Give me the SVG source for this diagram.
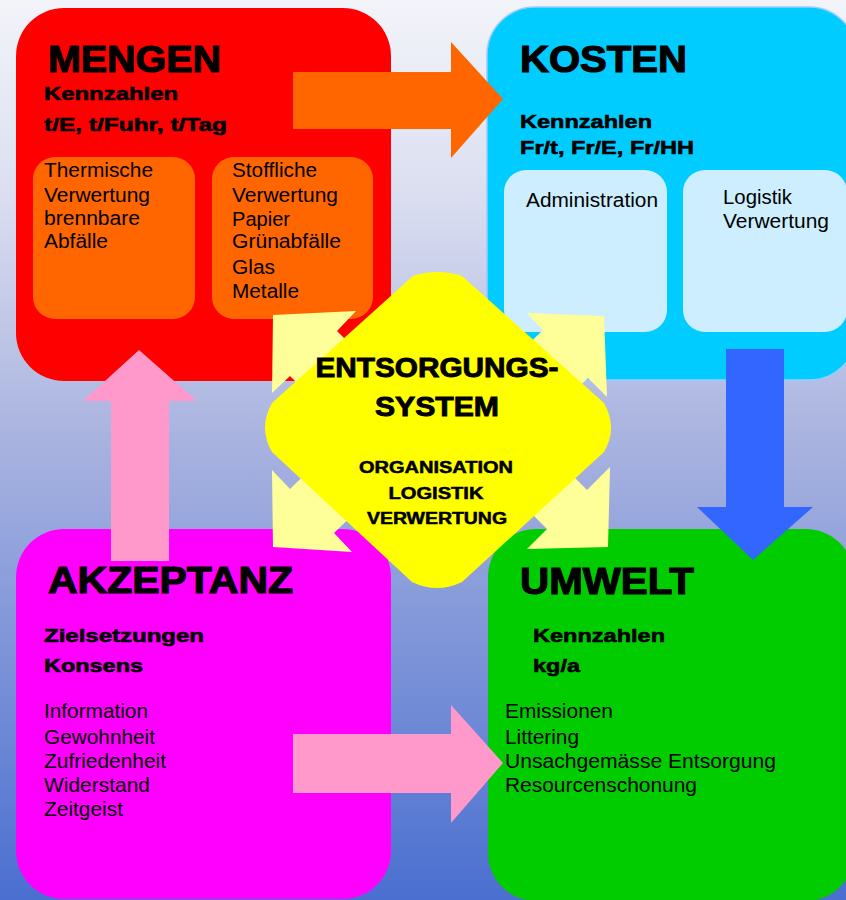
<svg xmlns="http://www.w3.org/2000/svg" width="846" height="900" viewBox="0 0 846 900">
<defs>
<linearGradient id="bg" x1="0" y1="0" x2="0" y2="1">
<stop offset="0" stop-color="#f3f4fa"/>
<stop offset="0.22" stop-color="#dadef0"/>
<stop offset="0.48" stop-color="#aab4e0"/>
<stop offset="1" stop-color="#4a6fd0"/>
</linearGradient>
<style>
.h{font-family:"Liberation Sans",Arial,sans-serif;font-weight:bold;font-size:37px;fill:#000;stroke:#000;stroke-width:1.2px}
.s{font-family:"Liberation Sans",Arial,sans-serif;font-weight:bold;font-size:19px;fill:#000;stroke:#000;stroke-width:0.6px}
.t{font-family:"Liberation Sans",Arial,sans-serif;font-size:20px;fill:#000}
.c1{font-family:"Liberation Sans",Arial,sans-serif;font-weight:bold;font-size:27px;fill:#000;stroke:#000;stroke-width:0.9px;text-anchor:middle}
.c2{font-family:"Liberation Sans",Arial,sans-serif;font-weight:bold;font-size:16px;fill:#000;stroke:#000;stroke-width:0.5px;text-anchor:middle}
.ya{fill:#ffff99}
</style>
</defs>
<rect x="0" y="0" width="846" height="900" fill="url(#bg)"/>

<g id="mengen">
<rect x="16" y="8" width="375" height="373" rx="48" fill="#ff0000"/>
<rect x="33" y="157" width="162" height="162" rx="22" fill="#ff6600"/>
<rect x="212" y="157" width="161" height="162" rx="22" fill="#ff6600"/>
<text class="h" x="48" y="72" textLength="173" lengthAdjust="spacingAndGlyphs">MENGEN</text>
<text class="s" x="44" y="100" textLength="134" lengthAdjust="spacingAndGlyphs">Kennzahlen</text>
<text class="s" x="44" y="131" textLength="183" lengthAdjust="spacingAndGlyphs">t/E, t/Fuhr, t/Tag</text>
<text class="t" x="44" y="177" textLength="109" lengthAdjust="spacingAndGlyphs">Thermische</text>
<text class="t" x="44" y="202" textLength="106" lengthAdjust="spacingAndGlyphs">Verwertung</text>
<text class="t" x="44" y="225" textLength="96" lengthAdjust="spacingAndGlyphs">brennbare</text>
<text class="t" x="44" y="248" textLength="64" lengthAdjust="spacingAndGlyphs">Abfälle</text>
<text class="t" x="232" y="177" textLength="85" lengthAdjust="spacingAndGlyphs">Stoffliche</text>
<text class="t" x="232" y="202" textLength="106" lengthAdjust="spacingAndGlyphs">Verwertung</text>
<text class="t" x="232" y="226" textLength="58" lengthAdjust="spacingAndGlyphs">Papier</text>
<text class="t" x="232" y="248" textLength="109" lengthAdjust="spacingAndGlyphs">Grünabfälle</text>
<text class="t" x="232" y="274" textLength="43" lengthAdjust="spacingAndGlyphs">Glas</text>
<text class="t" x="232" y="298" textLength="67" lengthAdjust="spacingAndGlyphs">Metalle</text>
</g>

<g id="kosten">
<rect x="487" y="7" width="370" height="373" rx="48" fill="#00ccff" stroke="#99ccff" stroke-width="1.5"/>
<rect x="504" y="170" width="163" height="162" rx="22" fill="#cceeff"/>
<rect x="683" y="170" width="164" height="162" rx="22" fill="#cceeff"/>
<text class="h" x="520" y="72" textLength="167" lengthAdjust="spacingAndGlyphs">KOSTEN</text>
<text class="s" x="520" y="128" textLength="132" lengthAdjust="spacingAndGlyphs">Kennzahlen</text>
<text class="s" x="520" y="154" textLength="174" lengthAdjust="spacingAndGlyphs">Fr/t, Fr/E, Fr/HH</text>
<text class="t" x="526" y="207" textLength="132" lengthAdjust="spacingAndGlyphs">Administration</text>
<text class="t" x="723" y="204" textLength="69" lengthAdjust="spacingAndGlyphs">Logistik</text>
<text class="t" x="723" y="228" textLength="106" lengthAdjust="spacingAndGlyphs">Verwertung</text>
</g>

<g id="akzeptanz">
<rect x="16" y="529" width="375" height="370" rx="48" fill="#ff00ff"/>
<text class="h" x="48" y="593" textLength="245" lengthAdjust="spacingAndGlyphs">AKZEPTANZ</text>
<text class="s" x="44" y="642" textLength="160" lengthAdjust="spacingAndGlyphs">Zielsetzungen</text>
<text class="s" x="44" y="672" textLength="99" lengthAdjust="spacingAndGlyphs">Konsens</text>
<text class="t" x="44" y="718" textLength="104" lengthAdjust="spacingAndGlyphs">Information</text>
<text class="t" x="44" y="744" textLength="111" lengthAdjust="spacingAndGlyphs">Gewohnheit</text>
<text class="t" x="44" y="768" textLength="122" lengthAdjust="spacingAndGlyphs">Zufriedenheit</text>
<text class="t" x="44" y="792" textLength="106" lengthAdjust="spacingAndGlyphs">Widerstand</text>
<text class="t" x="44" y="816" textLength="79" lengthAdjust="spacingAndGlyphs">Zeitgeist</text>
</g>

<g id="umwelt">
<rect x="488" y="529" width="366" height="372" rx="48" fill="#00cc00"/>
<text class="h" x="520" y="594" textLength="174" lengthAdjust="spacingAndGlyphs">UMWELT</text>
<text class="s" x="533" y="642" textLength="132" lengthAdjust="spacingAndGlyphs">Kennzahlen</text>
<text class="s" x="533" y="672" textLength="47" lengthAdjust="spacingAndGlyphs">kg/a</text>
<text class="t" x="505" y="718" textLength="108" lengthAdjust="spacingAndGlyphs">Emissionen</text>
<text class="t" x="505" y="744" textLength="74" lengthAdjust="spacingAndGlyphs">Littering</text>
<text class="t" x="505" y="768" textLength="271" lengthAdjust="spacingAndGlyphs">Unsachgemässe Entsorgung</text>
<text class="t" x="505" y="792" textLength="192" lengthAdjust="spacingAndGlyphs">Resourcenschonung</text>
</g>

<g id="connectors">
<polygon id="arrow-mengen-kosten" fill="#ff6600" points="293,72 451,72 451,42 503,99 451,158 451,129 293,129"/>
<polygon id="arrow-kosten-umwelt" fill="#3366ff" points="726,349 784,349 784,507 813,507 753,560 697,507 726,507"/>
<polygon id="arrow-akzeptanz-mengen" fill="#ff99cc" points="139,350 197,401 169,401 169,561 111,561 111,401 83,401"/>
<polygon id="arrow-akzeptanz-umwelt" fill="#ff99cc" points="293,734 451,734 451,705 503,763 451,823 451,793 293,793"/>
<polygon id="arrow-system-mengen" class="ya" points="273,315 356,311 337,331 420,414 373,459 290,376 272,393"/>
<polygon id="arrow-system-kosten" class="ya" points="604,316 527,313 543,330 463,407 508,455 588,378 607,397"/>
<polygon id="arrow-system-akzeptanz" class="ya" points="273,547 272,470 290,489 370,411 414,455 334,533 352,552"/>
<polygon id="arrow-system-umwelt" class="ya" points="608,547 610,467 587,490 507,410 467,449 547,529 527,549"/>
</g>

<g id="entsorgungssystem">
<path fill="#ffff00" d="M 413 276 Q 437 268 462 276 L 604 403 Q 618 428 604 452 L 462 582 Q 437 594 412 582 L 272 452 Q 258 428 272 403 Z"/>
<text class="c1" x="437" y="377" textLength="243" lengthAdjust="spacingAndGlyphs">ENTSORGUNGS-</text>
<text class="c1" x="437" y="416" textLength="124" lengthAdjust="spacingAndGlyphs">SYSTEM</text>
<text class="c2" x="436" y="473" textLength="154" lengthAdjust="spacingAndGlyphs">ORGANISATION</text>
<text class="c2" x="436" y="499" textLength="95" lengthAdjust="spacingAndGlyphs">LOGISTIK</text>
<text class="c2" x="437" y="524" textLength="140" lengthAdjust="spacingAndGlyphs">VERWERTUNG</text>
</g>
</svg>
